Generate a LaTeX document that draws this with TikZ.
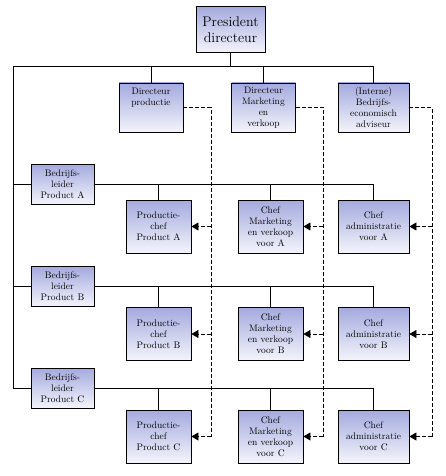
\documentclass[tikz,border=0pt]{standalone}
\usetikzlibrary{arrows.meta}
\definecolor{boxtop}{RGB}{164,170,222}
\definecolor{boxbot}{RGB}{244,244,251}
\tikzset{
  box/.style={draw, line width=0.8pt, top color=boxtop, bottom color=boxbot,
    align=center, inner sep=1pt, font=\fontsize{9.5}{11}\selectfont},
  dirbox/.style={box, minimum width=64pt, minimum height=49pt},
  leadbox/.style={box, minimum width=63pt, minimum height=40pt},
  chefbox/.style={box, minimum width=65pt, minimum height=53pt},
  line/.style={line width=0.8pt},
  staff/.style={line width=0.7pt, dash pattern=on 4pt off 2pt},
}

\begin{document}
\begin{tikzpicture}[x=1pt,y=-1pt,>={Triangle[length=7pt,width=8pt]}]
\useasboundingbox (0,0) rectangle (445,476);
\node[box, minimum width=69pt, minimum height=46pt, font=\fontsize{14}{16.5}\selectfont] (pres) at (230.5,29.5) {President\\directeur};
\node[dirbox] (dprod) at (151,107.5) {Directeur\\productie\\[10pt]};
\node[dirbox] (dmark) at (263.5,107.5) {Directeur\\Marketing\\en\\verkoop};
\node[dirbox, minimum width=71pt] (dadv) at (373.5,107.5) {(Interne)\\Bedrijfs-\\economisch\\adviseur};
% bedrijfsleiders
\node[leadbox] (bA) at (62.5,184) {Bedrijfs-\\leider\\Product A};
\node[leadbox] (bB) at (62.5,286.5) {Bedrijfs-\\leider\\Product B};
\node[leadbox] (bC) at (62.5,388) {Bedrijfs-\\leider\\Product C};
% chefs
\foreach \p/\y in {A/226.5,B/334,C/436.5}{
  \node[chefbox] (p\p) at (158.5,\y) {Productie-\\chef\\Product \p};
  \node[chefbox] (m\p) at (270.5,\y) {Chef\\Marketing\\en verkoop\\voor \p};
  \node[chefbox, minimum width=71pt] (a\p) at (373.5,\y) {Chef\\administratie\\voor \p};
}
\coordinate (top) at (13,66);
\coordinate (left) at (13,388);
\coordinate (dp) at (211,107.5);
\coordinate (dm) at (323,107.5);
\coordinate (da) at (432,107.5);
% line
\draw[line] (pres) -- (pres.south |- top);
\draw[line] (top) -- (dadv |- top) -- (dadv);
\draw[line] (dprod |- top) -- (dprod);
\draw[line] (dmark |- top) -- (dmark);
\draw[line] (top) -- (left) -- (bC);
\draw[line] (bA) -- (bA -| top);
\draw[line] (bB) -- (bB -| top);
\foreach \p in {A,B,C}{
  \draw[line] (b\p) -| (a\p);
  \draw[line] (b\p -| p\p) -- (p\p);
  \draw[line] (b\p -| m\p) -- (m\p);
}
% staff
\draw[staff] (dprod) -- (dp) -- (dp |- pC);
\draw[staff] (dmark) -- (dm) -- (dm |- mC);
\draw[staff] (dadv) -- (da) -- (da |- aC);
\foreach \p in {A,B,C}{
  \draw[staff,->] (dp |- p\p) -- (p\p);
  \draw[staff,->] (dm |- m\p) -- (m\p);
  \draw[staff,->] (da |- a\p) -- (a\p);
}
\end{tikzpicture}
\end{document}
